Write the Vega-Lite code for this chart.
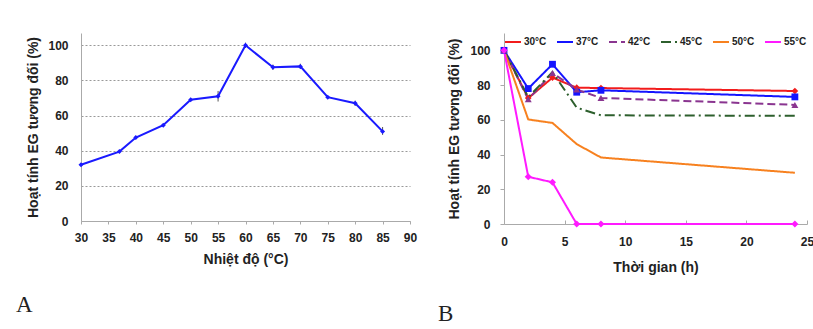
{
  "$schema": "https://vega.github.io/schema/vega-lite/v6.json",
  "background": "white",
  "padding": {"left": 16, "top": 33, "right": 0, "bottom": 0},
  "spacing": 21,
  "resolve": {
    "scale": {"color": "independent", "strokeDash": "independent", "shape": "independent", "size": "independent"},
    "legend": {"color": "independent", "strokeDash": "independent", "shape": "independent", "size": "independent"}
  },
  "config": {
    "view": {"stroke": null},
    "font": "Liberation Sans",
    "axis": {
      "labelFont": "Liberation Sans", "labelFontWeight": "bold", "labelFontSize": 12, "labelColor": "#222",
      "titleFont": "Liberation Sans", "titleFontWeight": "bold", "titleFontSize": 14, "titleColor": "#222",
      "domainColor": "#aaa", "tickColor": "#aaa", "grid": false
    }
  },
  "datasets": {
    "a": [
      {"t": 30, "act": 32, "lo": 32, "hi": 32},
      {"t": 37, "act": 39.5, "lo": 39.5, "hi": 39.5},
      {"t": 40, "act": 47.5, "lo": 47.5, "hi": 47.5},
      {"t": 45, "act": 54.5, "lo": 54.5, "hi": 54.5},
      {"t": 50, "act": 69, "lo": 69, "hi": 69},
      {"t": 55, "act": 71, "lo": 68, "hi": 74},
      {"t": 60, "act": 100, "lo": 98.5, "hi": 101.5},
      {"t": 65, "act": 87.5, "lo": 86, "hi": 89},
      {"t": 70, "act": 88, "lo": 86.5, "hi": 89.5},
      {"t": 75, "act": 70.5, "lo": 70.5, "hi": 70.5},
      {"t": 80, "act": 67, "lo": 65.5, "hi": 68.5},
      {"t": 85, "act": 51, "lo": 49, "hi": 53.5}
    ],
    "b": [
      {"series": "30°C", "time": 0, "act": 100},
      {"series": "30°C", "time": 2, "act": 72.5},
      {"series": "30°C", "time": 4, "act": 84.3},
      {"series": "30°C", "time": 6, "act": 78.5},
      {"series": "30°C", "time": 8, "act": 78.3},
      {"series": "30°C", "time": 24, "act": 76.6},
      {"series": "37°C", "time": 0, "act": 100},
      {"series": "37°C", "time": 2, "act": 78},
      {"series": "37°C", "time": 4, "act": 92},
      {"series": "37°C", "time": 6, "act": 75.9},
      {"series": "37°C", "time": 8, "act": 77},
      {"series": "37°C", "time": 24, "act": 73.2},
      {"series": "42°C", "time": 0, "act": 100},
      {"series": "42°C", "time": 2, "act": 71.8},
      {"series": "42°C", "time": 4, "act": 87},
      {"series": "42°C", "time": 6, "act": 77.4},
      {"series": "42°C", "time": 8, "act": 72.6},
      {"series": "42°C", "time": 24, "act": 68.6},
      {"series": "45°C", "time": 0, "act": 100},
      {"series": "45°C", "time": 2, "act": 73},
      {"series": "45°C", "time": 4, "act": 87.5},
      {"series": "45°C", "time": 6, "act": 67},
      {"series": "45°C", "time": 8, "act": 62.6},
      {"series": "45°C", "time": 24, "act": 62.3},
      {"series": "50°C", "time": 0, "act": 100},
      {"series": "50°C", "time": 2, "act": 60.2},
      {"series": "50°C", "time": 4, "act": 58.2},
      {"series": "50°C", "time": 6, "act": 46},
      {"series": "50°C", "time": 8, "act": 38.3},
      {"series": "50°C", "time": 24, "act": 29.5},
      {"series": "55°C", "time": 0, "act": 100},
      {"series": "55°C", "time": 2, "act": 27.2},
      {"series": "55°C", "time": 4, "act": 24},
      {"series": "55°C", "time": 6, "act": 0},
      {"series": "55°C", "time": 8, "act": 0},
      {"series": "55°C", "time": 24, "act": 0}
    ]
  },
  "hconcat": [
    {
      "width": 329,
      "height": 188,
      "title": {"text": "A", "orient": "bottom", "anchor": "start", "frame": "group", "font": "Liberation Serif", "fontSize": 23, "fontWeight": "normal", "color": "#222", "dx": -65, "offset": 28},
      "data": {"name": "a"},
      "encoding": {
        "x": {"field": "t", "type": "quantitative", "scale": {"domain": [30, 90], "nice": false, "zero": false},
          "axis": {"values": [30, 35, 40, 45, 50, 55, 60, 65, 70, 75, 80, 85, 90], "tickSize": 3, "labelPadding": 8, "title": "Nhiệt độ (°C)", "titlePadding": 9, "labelFlush": false}},
        "y": {"field": "act", "type": "quantitative", "scale": {"domain": [0, 107], "nice": false},
          "axis": {"values": [0, 20, 40, 60, 80, 100], "ticks": false, "labelPadding": 13, "grid": true, "gridColor": "#999", "gridDash": [2, 2], "title": "Hoạt tính EG tương đối (%)", "titlePadding": 7}}
      },
      "layer": [
        {"mark": {"type": "rule", "color": "#555", "strokeWidth": 1}, "encoding": {"y": {"field": "lo", "type": "quantitative"}, "y2": {"field": "hi"}}},
        {"mark": {"type": "line", "color": "#1a1aff", "strokeWidth": 2, "point": {"shape": "diamond", "size": 25, "color": "#1a1aff"}}}
      ]
    },
    {
      "width": 303,
      "height": 191,
      "title": {"text": "B", "orient": "bottom", "anchor": "start", "frame": "group", "font": "Liberation Serif", "fontSize": 23, "fontWeight": "normal", "color": "#222", "dx": -66, "offset": 29},
      "data": {"name": "b"},
      "encoding": {
        "x": {"field": "time", "type": "quantitative", "scale": {"domain": [0, 25], "nice": false},
          "axis": {"values": [0, 5, 10, 15, 20, 25], "tickSize": -4, "labelPadding": 16, "title": "Thời gian (h)", "titlePadding": 13, "labelFlush": false}},
        "y": {"field": "act", "type": "quantitative", "scale": {"domain": [0, 110], "nice": false},
          "axis": {"values": [0, 20, 40, 60, 80, 100], "tickSize": 4, "labelPadding": 10, "title": "Hoạt tính EG tương đối (%)", "titlePadding": 8}},
        "color": {"field": "series", "type": "nominal",
          "scale": {"domain": ["30°C", "37°C", "42°C", "45°C", "50°C", "55°C"], "range": ["#f21c1c", "#1414ff", "#8a3590", "#2d5f2d", "#f7811f", "#ff1aff"]},
          "legend": {"orient": "top-right", "direction": "horizontal", "title": null, "offset": 0, "symbolType": "stroke", "symbolStrokeWidth": 2, "symbolSize": 256, "labelFontSize": 10, "labelFontWeight": "bold", "labelColor": "#222", "labelFont": "Liberation Sans", "columnPadding": 6, "labelOffset": 2}}
      },
      "layer": [
        {"mark": {"type": "line", "strokeWidth": 2},
          "encoding": {"strokeDash": {"field": "series", "type": "nominal",
            "scale": {"domain": ["30°C", "37°C", "42°C", "45°C", "50°C", "55°C"], "range": [[1, 0], [1, 0], [8, 4], [10, 4, 2, 4], [1, 0], [1, 0]]}}}},
        {"transform": [{"filter": {"field": "series", "oneOf": ["30°C", "37°C", "42°C", "55°C"]}}],
          "mark": {"type": "point", "filled": true, "opacity": 1},
          "encoding": {"shape": {"field": "series", "type": "nominal", "legend": null,
            "scale": {"domain": ["30°C", "37°C", "42°C", "55°C"], "range": ["diamond", "square", "triangle-up", "diamond"]}},
            "size": {"field": "series", "type": "nominal", "legend": null, "scale": {"domain": ["30°C", "37°C", "42°C", "55°C"], "range": [45, 50, 35, 20]}}}}
      ]
    }
  ]
}
